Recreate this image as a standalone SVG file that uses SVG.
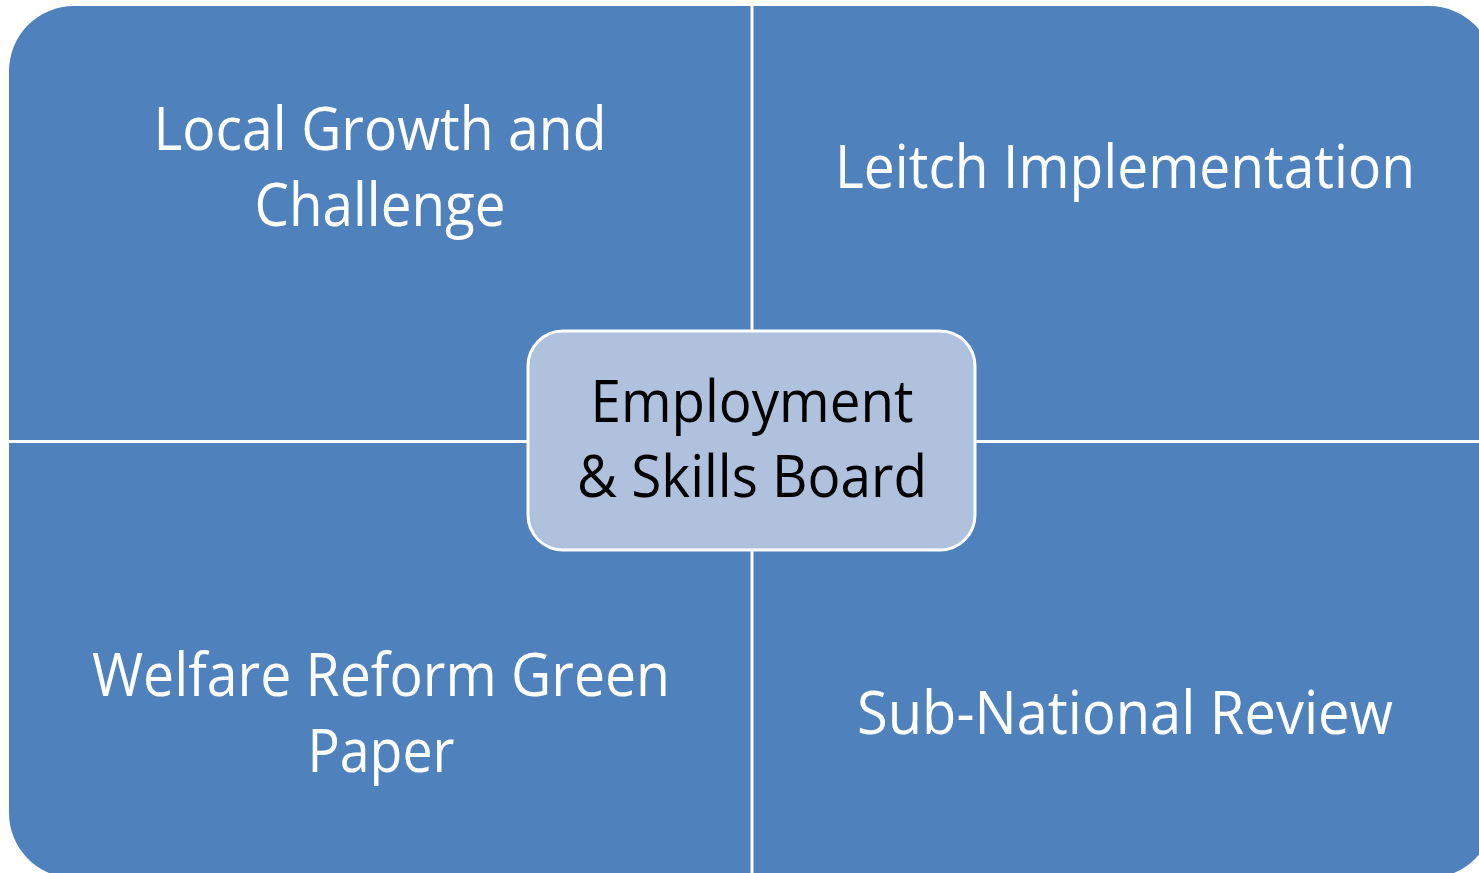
<svg xmlns="http://www.w3.org/2000/svg" width="1479" height="873" viewBox="0 0 1479 873">
<style>
.q{fill:#4F81BD}
.t{font-family:"Open Sans","Noto Sans","Liberation Sans",sans-serif;font-size:61px;fill:#FFFFFF;text-anchor:middle}
.c{font-family:"Open Sans","Noto Sans","Liberation Sans",sans-serif;font-size:59px;fill:#000000;text-anchor:middle}
</style>
<rect x="0" y="0" width="1479" height="873" fill="#FFFFFF"/>
<g id="tl">
<path class="q" d="M9,71 A65,65 0 0 1 74,6 H750.5 V440 H9 Z"/>
<text class="t" x="380" y="150" textLength="453" lengthAdjust="spacingAndGlyphs">Local Growth and</text>
<text class="t" x="380" y="226" textLength="251" lengthAdjust="spacingAndGlyphs">Challenge</text>
</g>
<g id="tr">
<path class="q" d="M753.5,6 H1429 A65,65 0 0 1 1494,71 V440 H753.5 Z"/>
<text class="t" x="1125" y="188" textLength="580" lengthAdjust="spacingAndGlyphs">Leitch Implementation</text>
</g>
<g id="bl">
<path class="q" d="M9,443 H750.5 V878 H74 A65,65 0 0 1 9,813 Z"/>
<text class="t" x="381" y="696" textLength="578" lengthAdjust="spacingAndGlyphs">Welfare Reform Green</text>
<text class="t" x="381" y="772" textLength="147" lengthAdjust="spacingAndGlyphs">Paper</text>
</g>
<g id="br">
<path class="q" d="M753.5,443 H1494 V813 A65,65 0 0 1 1429,878 H753.5 Z"/>
<text class="t" x="1125" y="734" textLength="536" lengthAdjust="spacingAndGlyphs">Sub-National Review</text>
</g>
<g id="center">
<rect x="528" y="331" width="447" height="219" rx="35" ry="35" fill="#B0C1DD" stroke="#FFFFFF" stroke-width="3"/>
<text class="c" x="752" y="422" textLength="323" lengthAdjust="spacingAndGlyphs">Employment</text>
<text class="c" x="752" y="497" textLength="350" lengthAdjust="spacingAndGlyphs">&amp; Skills Board</text>
</g>
<g id="connectors"></g>
</svg>
